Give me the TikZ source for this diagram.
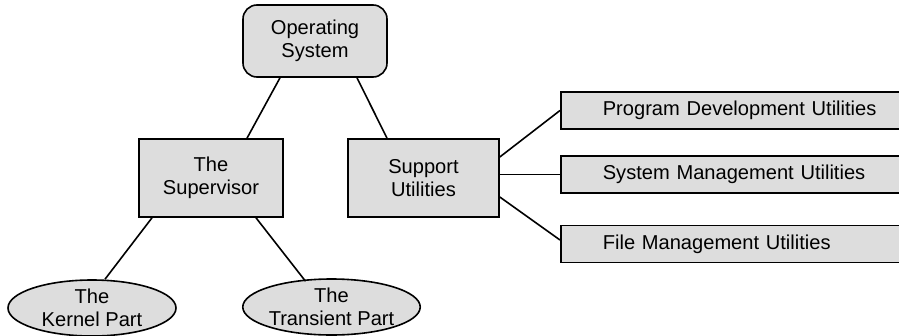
\documentclass[tikz,border=0pt]{standalone}
\usepackage{fontspec}
\setmainfont{Liberation Sans}
\usetikzlibrary{shapes.geometric}
\definecolor{boxfill}{HTML}{DDDDDD}
\begin{document}
\begin{tikzpicture}[x=1pt,y=-1pt,
  every node/.style={font=\fontsize{20.1}{22.5}\selectfont, text=black},
  base/.style={draw=black, fill=boxfill, line width=1.6pt, align=center, inner sep=0pt},
  rbox/.style={base, rectangle, minimum width=144pt, minimum height=78pt},
  rrbox/.style={base, rectangle, rounded corners=14pt, minimum width=144pt, minimum height=72pt},
  ebox/.style={base, ellipse, minimum height=56pt},
  ubox/.style={base, rectangle, anchor=west, minimum height=37pt, text width=276pt, align=left, inner xsep=42pt},
  conn/.style={line width=1.6pt}]
\useasboundingbox (0,0) rectangle (899,335);
\node[rrbox] (os) at (315,41) {Operating\\System};
\node[rbox] (sup) at (211,178) {The\\Supervisor};
\node[rbox, minimum width=151pt] (sut) at (423.5,178) {Support\\Utilities};
\node[ebox, minimum width=168pt] (k) at (92,308) {The\\Kernel Part};
\node[ebox, minimum width=165pt] (t) at (331.5,307) {The\\Transient Part};
\node[ubox] (p1) at (560,110.5) {Program Development Utilities};
\node[ubox] (p2) at (560,174.5) {System Management Utilities};
\node[ubox] (p3) at (560,244) {File Management Utilities};
\draw[conn] ([xshift=-35pt]os.south) -- ([xshift=36pt]sup.north);
\draw[conn] ([xshift=42pt]os.south) -- ([xshift=-36.5pt]sut.north);
\draw[conn] ([xshift=-59pt]sup.south) -- ([xshift=13pt]k.north);
\draw[conn] ([xshift=45pt]sup.south) -- ([xshift=-26pt,yshift=-3pt]t.north);
\draw[conn] ([yshift=21pt]sut.east) -- (p1.west);
\draw[conn] (sut.east |- p2.west) -- (p2.west);
\draw[conn] ([yshift=-19pt]sut.east) -- ([yshift=4pt]p3.west);
\end{tikzpicture}
\end{document}
